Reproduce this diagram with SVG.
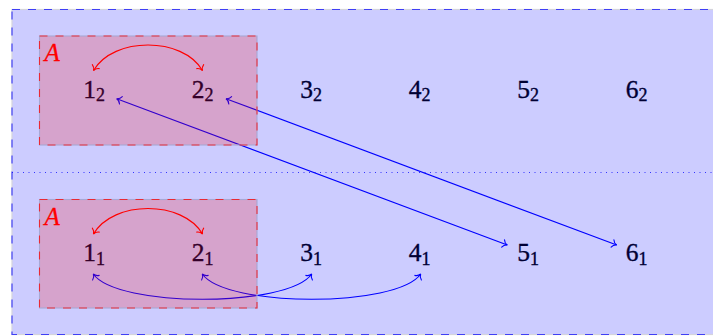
<svg xmlns="http://www.w3.org/2000/svg" width="713" height="336" viewBox="0 0 713 336">
<style>
.lbl{fill:#000;stroke:#000;stroke-width:0.35;text-anchor:middle;font-family:'Liberation Serif',serif;font-size:25.5px}
.blu{fill:none;stroke:#0000ff;stroke-width:1.1}
.red{fill:none;stroke:#ff0000;stroke-width:1.1}
</style>
<defs>
<marker id="ab" viewBox="-6 -6 8 12" markerWidth="8" markerHeight="12" refX="0" refY="0" orient="auto-start-reverse" markerUnits="userSpaceOnUse">
<path d="M-4.5,-4 C-3.5,-1.6 -1.6,-0.4 0,0 C-1.6,0.4 -3.5,1.6 -4.5,4" fill="none" stroke="#0000ff" stroke-width="1.1" stroke-linecap="round"/>
</marker>
<marker id="ar" viewBox="-6 -6 8 12" markerWidth="8" markerHeight="12" refX="0" refY="0" orient="auto-start-reverse" markerUnits="userSpaceOnUse">
<path d="M-4.5,-4 C-3.5,-1.6 -1.6,-0.4 0,0 C-1.6,0.4 -3.5,1.6 -4.5,4" fill="none" stroke="#ff0000" stroke-width="1.1" stroke-linecap="round"/>
</marker>
</defs>
<rect x="0" y="0" width="713" height="336" fill="#ffffff"/>
<g id="n1_2"><text class="lbl" font-family="'Liberation Serif', serif" x="94" y="97.5">1<tspan font-size="18" dy="3.5">2</tspan></text></g>
<g id="n2_2"><text class="lbl" font-family="'Liberation Serif', serif" x="202.5" y="97.5">2<tspan font-size="18" dy="3.5">2</tspan></text></g>
<g id="n3_2"><text class="lbl" font-family="'Liberation Serif', serif" x="311" y="97.5">3<tspan font-size="18" dy="3.5">2</tspan></text></g>
<g id="n4_2"><text class="lbl" font-family="'Liberation Serif', serif" x="419.5" y="97.5">4<tspan font-size="18" dy="3.5">2</tspan></text></g>
<g id="n5_2"><text class="lbl" font-family="'Liberation Serif', serif" x="528" y="97.5">5<tspan font-size="18" dy="3.5">2</tspan></text></g>
<g id="n6_2"><text class="lbl" font-family="'Liberation Serif', serif" x="636.5" y="97.5">6<tspan font-size="18" dy="3.5">2</tspan></text></g>
<g id="n1_1"><text class="lbl" font-family="'Liberation Serif', serif" x="94" y="261">1<tspan font-size="18" dy="3.5">1</tspan></text></g>
<g id="n2_1"><text class="lbl" font-family="'Liberation Serif', serif" x="202.5" y="261">2<tspan font-size="18" dy="3.5">1</tspan></text></g>
<g id="n3_1"><text class="lbl" font-family="'Liberation Serif', serif" x="311" y="261">3<tspan font-size="18" dy="3.5">1</tspan></text></g>
<g id="n4_1"><text class="lbl" font-family="'Liberation Serif', serif" x="419.5" y="261">4<tspan font-size="18" dy="3.5">1</tspan></text></g>
<g id="n5_1"><text class="lbl" font-family="'Liberation Serif', serif" x="528" y="261">5<tspan font-size="18" dy="3.5">1</tspan></text></g>
<g id="n6_1"><text class="lbl" font-family="'Liberation Serif', serif" x="636.5" y="261">6<tspan font-size="18" dy="3.5">1</tspan></text></g>
<g id="connectors">
<path class="blu" d="M93.3,274 C116.8,307.7 288.2,307.7 311.7,274" marker-start="url(#ab)" marker-end="url(#ab)"/>
<path class="blu" d="M202.3,274 C225.8,307.7 397.2,307.7 420.7,274" marker-start="url(#ab)" marker-end="url(#ab)"/>
<path class="blu" d="M116.7,98.7 L507.3,245" marker-start="url(#ab)" marker-end="url(#ab)"/>
<path class="blu" d="M226,98.7 L616.7,245" marker-start="url(#ab)" marker-end="url(#ab)"/>
</g>
<g id="outer">
<rect x="12" y="9.5" width="720" height="325" fill="#0000ff" fill-opacity="0.2"/>
<rect x="12" y="9.5" width="720" height="325" fill="none" stroke="#d4d4dc" stroke-width="1.2"/>
<rect x="12" y="9.5" width="720" height="325" fill="none" stroke="#0000ff" stroke-opacity="0.7" stroke-width="1.2" stroke-dasharray="8 8"/>
<line x1="12" y1="172.5" x2="713" y2="172.5" stroke="#0000ff" stroke-opacity="0.75" stroke-width="1" stroke-dasharray="1 4.5"/>
</g>
<g id="A_top">
<rect x="39.5" y="36" width="217.5" height="109" fill="#ff0000" fill-opacity="0.2"/>
<rect x="39.5" y="36" width="217.5" height="109" fill="none" stroke="#a8a8d4" stroke-width="1.1"/>
<rect x="39.5" y="36" width="217.5" height="109" fill="none" stroke="#ff0000" stroke-opacity="0.75" stroke-width="1.1" stroke-dasharray="8 8"/>
<text x="44.5" y="61" font-family="'Liberation Serif', serif" font-style="italic" font-size="25" fill="#ff0000" stroke="#ff0000" stroke-width="0.3">A</text>
</g>
<g id="A_bottom">
<rect x="39.5" y="199.5" width="217.5" height="108.5" fill="#ff0000" fill-opacity="0.2"/>
<rect x="39.5" y="199.5" width="217.5" height="108.5" fill="none" stroke="#a8a8d4" stroke-width="1.1"/>
<rect x="39.5" y="199.5" width="217.5" height="108.5" fill="none" stroke="#ff0000" stroke-opacity="0.75" stroke-width="1.1" stroke-dasharray="8 8"/>
<text x="44.5" y="224.5" font-family="'Liberation Serif', serif" font-style="italic" font-size="25" fill="#ff0000" stroke="#ff0000" stroke-width="0.3">A</text>
</g>
<g id="connectors_A">
<path class="red" d="M93.5,70.5 C113.5,36.5 182.5,36.5 202.5,70.5" marker-start="url(#ar)" marker-end="url(#ar)"/>
<path class="red" d="M93.5,234 C113.5,200 182.5,200 202.5,234" marker-start="url(#ar)" marker-end="url(#ar)"/>
</g>
</svg>
